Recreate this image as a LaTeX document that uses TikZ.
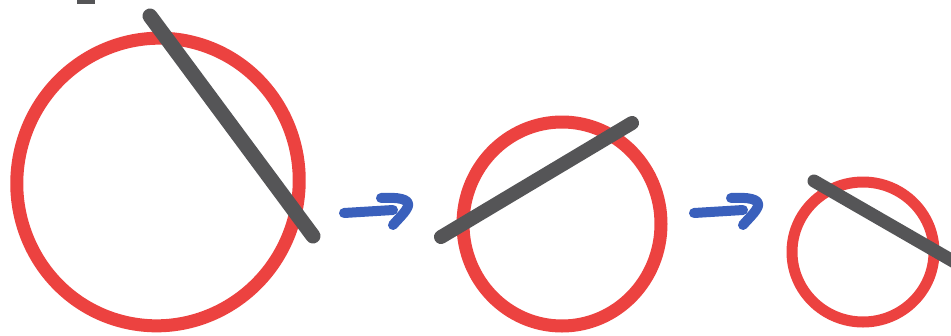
\documentclass[tikz,border=0pt]{standalone}
\usetikzlibrary{calc}
\definecolor{ringred}{RGB}{236,66,64}
\definecolor{stickgrey}{RGB}{85,85,87}
\definecolor{arrowblue}{RGB}{58,96,188}
\tikzset{
  ring/.style={draw=ringred, line width=#1},
  stick/.style={draw=stickgrey, line width=#1, line cap=round},
  hook/.style={draw=arrowblue, line width=10pt, line cap=round, line join=round},
}
\begin{document}
\begin{tikzpicture}[x=1pt,y=-1pt]
\useasboundingbox (0,0) rectangle (951,335);
\clip (0,0) rectangle (951,335);
% top-left remnant
\fill[stickgrey] (77,0) rectangle (95,4);
% ring 1
\draw[ring=13pt, rotate around={-15:(158,182)}] (158,182) ellipse[x radius=141pt, y radius=144pt];
\draw[stick=15pt] (150,16) -- (313,236);
% arrow 1
\draw[hook] (344,213) -- (393,210);
\draw[hook] (381,198) .. controls (398,197) and (410,199) .. (408,206)
   .. controls (406,212) and (398,219) .. (393,225);
% ring 2
\draw[ring=13pt] (562,224) ellipse[x radius=99pt, y radius=102pt];
\draw[stick=14pt] (441,237) -- (632,123);
% arrow 2
\draw[hook] (694,213) -- (743,210);
\draw[hook] (731,198) .. controls (748,197) and (760,199) .. (758,206)
   .. controls (756,212) and (748,219) .. (743,225);
% ring 3
\draw[ring=11pt] (863,252) ellipse[x radius=71pt, y radius=70pt];
\draw[stick=13pt] (814,181) -- (965,268);
\end{tikzpicture}
\end{document}
